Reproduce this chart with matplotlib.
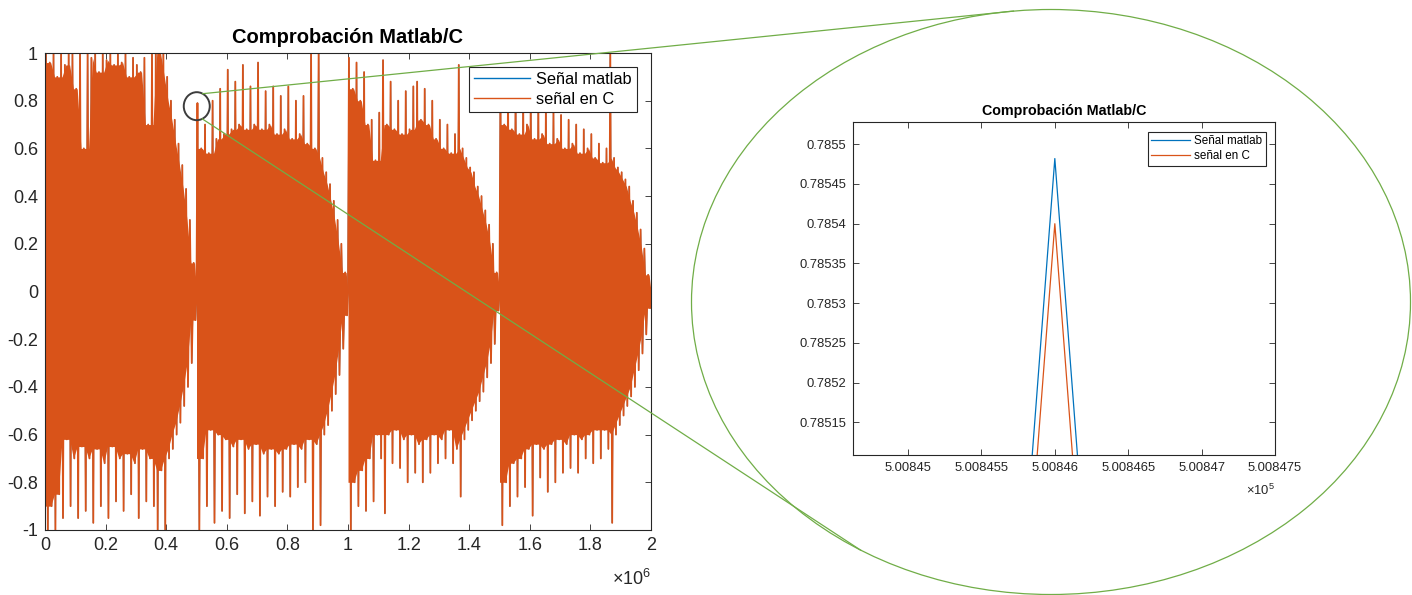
import numpy as np
import matplotlib
matplotlib.use('Agg')
import matplotlib.pyplot as plt
from matplotlib.patches import Ellipse

plt.rcParams['font.family'] = ['Liberation Sans', 'DejaVu Sans']
plt.rcParams['mathtext.fontset'] = 'custom'
plt.rcParams['mathtext.rm'] = 'Liberation Sans'
plt.rcParams['mathtext.default'] = 'regular'
plt.rcParams['axes.unicode_minus'] = False

BLUE = '#0072BD'
ORANGE = '#D95319'
GREEN = '#70AD47'
AXCOL = '#262626'

# signal peaks, 4 notes of 0.5e6 samples each
seg_starts = [0.0, 0.5e6, 1.0e6, 1.5e6]
seg_len = 0.5e6

upper_1 = [1.0, 0.96, 1.0, 0.9, 1.0, 0.95, 1.0, 1.0, 0.85, 1.0,
           0.6, 1.0, 0.98, 1.0, 0.92, 1.0, 0.97, 1.0, 0.95, 1.0,
           0.96, 1.0, 0.9, 0.98, 0.95, 0.92, 0.98, 0.7, 1.0, 1.0,
           1.0, 1.0, 0.9, 0.8, 0.72, 0.62, 0.53, 0.43, 0.3, 0.12]
lower_1 = [-1.0, -0.9, -1.0, -0.85, -0.95, -0.62, -0.9, -0.7, -0.95, -0.65,
           -0.92, -0.7, -0.97, -0.66, -0.9, -0.72, -0.95, -0.65, -0.88, -0.7,
           -0.92, -0.68, -0.85, -0.72, -0.95, -0.66, -0.88, -0.7, -0.9, -1.0,
           -0.75, -1.0, -0.7, -0.66, -0.6, -0.55, -0.48, -0.4, -0.3, -0.12]

upper_2 = [0.79, 0.6, 0.7, 0.58, 0.8, 0.64, 0.85, 0.66, 0.93, 0.68,
           0.88, 0.7, 0.95, 0.68, 0.86, 0.7, 0.96, 0.68, 0.84, 0.7,
           0.86, 0.66, 0.82, 0.68, 0.86, 0.64, 0.8, 0.66, 0.82, 0.62,
           1.0, 0.6, 1.0, 0.56, 0.5, 0.45, 0.38, 0.3, 0.2, 0.08]
lower_2 = [-1.0, -0.7, -0.9, -0.58, -0.97, -0.6, -0.92, -0.62, -0.95, -0.65,
           -0.85, -0.62, -0.93, -0.66, -0.88, -0.64, -0.94, -0.68, -0.86, -0.66,
           -0.9, -0.68, -0.84, -0.66, -0.86, -0.64, -0.82, -0.66, -0.8, -0.62,
           -1.0, -0.64, -0.98, -0.6, -0.56, -0.5, -0.43, -0.35, -0.24, -0.1]

upper_3 = [0.98, 0.85, 0.96, 0.8, 0.92, 0.7, 0.72, 0.55, 0.75, 0.97,
           0.7, 0.88, 0.68, 0.8, 0.66, 0.84, 0.68, 0.86, 0.88, 0.72,
           0.85, 0.7, 0.8, 0.64, 0.72, 0.6, 0.7, 0.58, 0.66, 0.95,
           0.6, 0.56, 0.52, 0.5, 0.44, 0.4, 0.34, 0.28, 0.2, 0.08]
lower_3 = [-1.0, -0.8, -0.9, -0.75, -0.92, -0.7, -0.88, -0.6, -0.7, -0.93,
           -0.6, -0.72, -0.58, -0.74, -0.62, -0.8, -0.6, -0.76, -0.64, -0.8,
           -0.62, -0.76, -0.6, -0.72, -0.62, -0.7, -0.58, -0.72, -0.66, -0.86,
           -0.62, -0.58, -0.54, -0.5, -0.46, -0.42, -0.36, -0.3, -0.22, -0.08]

upper_4 = [0.9, 0.7, 0.85, 0.68, 0.86, 0.66, 0.82, 0.7, 0.84, 0.64,
           0.8, 0.66, 0.78, 0.62, 0.76, 0.64, 0.74, 0.6, 0.72, 0.62,
           0.7, 0.58, 0.68, 0.6, 0.66, 0.56, 0.62, 0.54, 0.6, 1.0,
           0.56, 0.52, 0.5, 0.47, 0.44, 0.38, 0.33, 0.26, 0.18, 0.07]
lower_4 = [-0.98, -0.8, -0.9, -0.72, -0.86, -0.7, -0.82, -0.66, -0.94, -0.64,
           -0.78, -0.66, -0.84, -0.64, -0.8, -0.62, -0.76, -0.64, -0.74, -0.6,
           -0.76, -0.62, -0.7, -0.6, -0.72, -0.58, -0.7, -0.58, -0.66, -0.97,
           -0.6, -0.56, -0.52, -0.48, -0.44, -0.4, -0.33, -0.26, -0.18, -0.07]

uppers = [upper_1, upper_2, upper_3, upper_4]
lowers = [lower_1, lower_2, lower_3, lower_4]

# zoomed samples around the peak at 5.00846e5
zoom_x = [500845, 500846, 500847]
zoom_matlab = [0.78306, 0.785482, 0.78306]
zoom_c = [0.78298, 0.7854, 0.78298]

main_xticks = [0, 0.2e6, 0.4e6, 0.6e6, 0.8e6, 1.0e6, 1.2e6, 1.4e6, 1.6e6, 1.8e6, 2.0e6]
main_yticks = [-1, -0.8, -0.6, -0.4, -0.2, 0, 0.2, 0.4, 0.6, 0.8, 1]
zoom_xticks = [500845, 500845.5, 500846, 500846.5, 500847, 500847.5]
zoom_yticks = [0.78515, 0.7852, 0.78525, 0.7853, 0.78535, 0.7854, 0.78545, 0.7855]


def build_signal(starts, ups, los, length):
    xs, ys = [], []
    for s, up, lo in zip(starts, ups, los):
        step = length / len(up)
        for k in range(len(up)):
            xs += [s + (k + 0.25) * step, s + (k + 0.75) * step]
            ys += [up[k], lo[k]]
        xs.append(s + length)
        ys.append(0.0)
    return np.array(xs), np.array(ys)


def build_body(starts, ups, los, length):
    # solid part of the waveform: the peak level shared with both neighbours
    xs, top, bot = [], [], []
    for s, up, lo in zip(starts, ups, los):
        up = np.array(up)
        lo = np.array(lo)
        n = len(up)
        step = length / n
        up_p = np.concatenate([[up[0]], up, [up[-1]]])
        lo_p = np.concatenate([[lo[0]], lo, [lo[-1]]])
        t = np.minimum(np.minimum(up_p[:-2], up_p[1:-1]), up_p[2:])
        b = np.maximum(np.maximum(lo_p[:-2], lo_p[1:-1]), lo_p[2:])
        xs += [s] + [s + (k + 0.5) * step for k in range(n)] + [s + length]
        top += [t[0]] + list(t) + [0.0]
        bot += [b[0]] + list(b) + [0.0]
    return np.array(xs), np.array(top), np.array(bot)


sig_x, sig_y = build_signal(seg_starts, uppers, lowers, seg_len)
body_x, body_top, body_bot = build_body(seg_starts, uppers, lowers, seg_len)

W, H = 1412, 595
fig = plt.figure(figsize=(W / 100, H / 100), dpi=100)


def px_axes(l, t, r, b):
    return fig.add_axes([l / W, 1 - b / H, (r - l) / W, (b - t) / H])


def style(a, size):
    a.tick_params(direction='in', top=True, right=True, length=4, width=0.6,
                  labelsize=size, colors=AXCOL, pad=5)
    for sp in a.spines.values():
        sp.set_color(AXCOL)
        sp.set_linewidth(0.8)


# main plot
ax = px_axes(45, 53, 651, 530)
ax.plot(sig_x, sig_y, color=BLUE, lw=0.8, label='Señal matlab', zorder=2)
ax.fill_between(body_x, body_bot, body_top, color=ORANGE, lw=0, zorder=2.1)
ax.plot(sig_x, sig_y, color=ORANGE, lw=1.3, label='señal en C', zorder=2.2)
ax.set_xlim(0, 2e6)
ax.set_ylim(-1, 1)
ax.set_xticks(main_xticks)
ax.set_xticklabels(['%g' % (v / 1e6) for v in main_xticks])
ax.set_yticks(main_yticks)
ax.set_yticklabels(['%g' % v for v in main_yticks])
style(ax, 13)
ax.set_title('Comprobación Matlab/C', fontweight='bold', fontsize=14.5, pad=7)
ax.text(1.0, -0.082, r'$\times10^{6}$', transform=ax.transAxes, ha='right',
        va='top', fontsize=13, color=AXCOL)
leg = ax.legend(loc='upper right', bbox_to_anchor=((637 - 45) / 606, (530 - 67) / 477),
                borderaxespad=0, fontsize=11.8, handlelength=3.4, handletextpad=0.4,
                labelspacing=0.3, borderpad=0.3, fancybox=False, framealpha=1,
                edgecolor=AXCOL)
leg.get_frame().set_linewidth(0.8)
for h in leg.get_lines():
    h.set_linewidth(1.0)

# zoomed plot
axz = px_axes(853, 122, 1275, 455)
axz.plot(zoom_x, zoom_matlab, color=BLUE, lw=0.9, label='Señal matlab')
axz.plot(zoom_x, zoom_c, color=ORANGE, lw=0.9, label='señal en C')
axz.set_xlim(500844.625, 500847.5)
axz.set_ylim(0.785109, 0.785528)
axz.set_xticks(zoom_xticks)
axz.set_xticklabels(['%.7g' % (v / 1e5) for v in zoom_xticks])
axz.set_yticks(zoom_yticks)
axz.set_yticklabels(['%.6g' % v for v in zoom_yticks])
style(axz, 9.4)
axz.set_title('Comprobación Matlab/C', fontweight='bold', fontsize=10.3, pad=5)
axz.text(1.0, -0.084, r'$\times10^{5}$', transform=axz.transAxes, ha='right',
         va='top', fontsize=9.4, color=AXCOL)
legz = axz.legend(loc='upper right', bbox_to_anchor=((1266 - 853) / 422, (455 - 132) / 333),
                  borderaxespad=0, fontsize=8.4, handlelength=3.3, handletextpad=0.4,
                  labelspacing=0.25, borderpad=0.3, fancybox=False, framealpha=1,
                  edgecolor=AXCOL)
legz.get_frame().set_linewidth(0.8)

# magnifier overlay in pixel coordinates
ov = fig.add_axes([0, 0, 1, 1])
ov.set_xlim(0, W)
ov.set_ylim(H, 0)
ov.axis('off')
ov.patch.set_alpha(0)

dx, dy = ax.transData.transform((zoom_x[1], zoom_c[1]))
cx, cy = dx, H - dy + 2
rx, ry = 13, 14
ov.add_patch(Ellipse((cx, cy), 2 * rx, 2 * ry, fill=False, ec='#3c3c3c', lw=1.4))

ecx, ecy, ea, eb = 1051, 302, 359.5, 292.5
ov.add_patch(Ellipse((ecx, ecy), 2 * ea, 2 * eb, fill=False, ec=GREEN, lw=0.9))

for a_start, a_end in [(63, 96), (-65, 238)]:
    t0 = np.radians(a_start)
    t1 = np.radians(a_end)
    x0, y0 = cx + rx * np.cos(t0), cy - ry * np.sin(t0)
    x1, y1 = ecx + ea * np.cos(t1), ecy - eb * np.sin(t1)
    ov.plot([x0, x1], [y0, y1], color=GREEN, lw=0.9)

fig.savefig('out.png', dpi=100)
